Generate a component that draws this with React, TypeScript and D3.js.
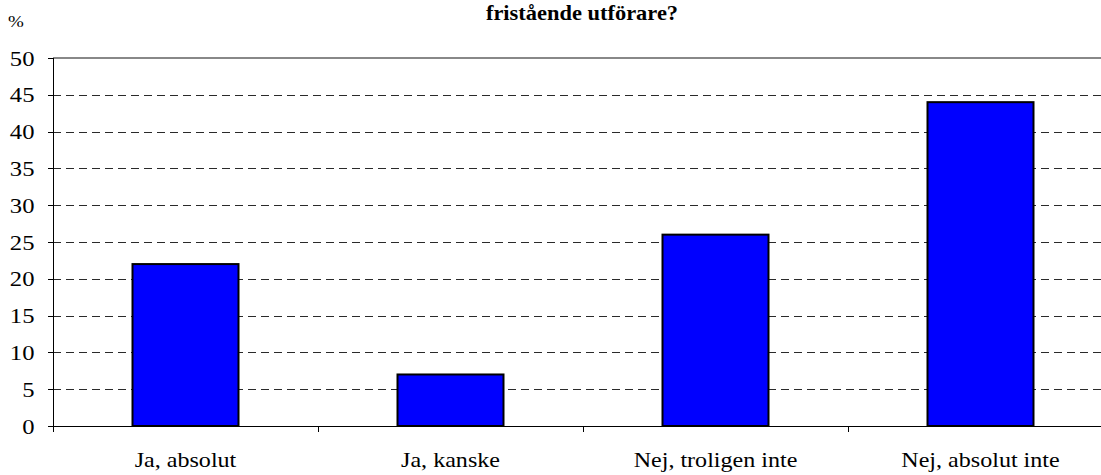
import React from "react";
import * as d3 from "d3";

const categories = ["Ja, absolut", "Ja, kanske", "Nej, troligen inte", "Nej, absolut inte"];
const values = [22, 7, 26, 44];
const yTicks = [0, 5, 10, 15, 20, 25, 30, 35, 40, 45, 50];
const titleLine = "fristående utförare?";
const unitLabel = "%";

const W = 1101;
const H = 475;
const left = 53;
const right = 1113;
const top = 58;
const bottom = 426;
const FONT = "Liberation Serif, DejaVu Serif, serif";

export default function App() {
  const x = d3.scaleBand<string>().domain(categories).range([left, right]).paddingInner(0.6).paddingOuter(0.3);
  const y = d3.scaleLinear().domain([0, 50]).range([bottom, top]);
  const step = x.step();
  const boundaries = d3.range(categories.length + 1).map((i) => left + i * step);
  const sx = 1.12;
  return (
    <svg width={W} height={H} style={{ position: "absolute", left: 0, top: 0, background: "#fff" }}>
      <text fontFamily={FONT} transform={`translate(${(left + right) / 2 - 1},20) scale(1.02,1)`} textAnchor="middle" fontSize={22} fontWeight="bold">{titleLine}</text>
      <text fontFamily={FONT} transform={`translate(8,27) scale(${sx},1)`} fontSize={17}>{unitLabel}</text>
      {yTicks.filter((t) => t > 0 && t < 50).map((t) => (
        <line key={"g" + t} x1={left} x2={right} y1={Math.round(y(t)) + 0.5} y2={Math.round(y(t)) + 0.5} stroke="#2a2a2a" strokeDasharray="8,5" />
      ))}
      <line x1={left} x2={right} y1={top} y2={top} stroke="#888" strokeWidth={2} />
      {values.map((v, i) => (
        <rect key={i} x={x(categories[i])!} y={y(v)} width={x.bandwidth()} height={y(0) - y(v)} fill="#0000FF" stroke="#000" strokeWidth={2} />
      ))}
      <line x1={left + 0.5} x2={left + 0.5} y1={top} y2={bottom} stroke="#000" />
      <line x1={left} x2={right} y1={bottom + 0.5} y2={bottom + 0.5} stroke="#000" />
      {yTicks.map((t) => (
        <g key={"t" + t}>
          <line x1={left - 5} x2={left} y1={Math.round(y(t)) + 0.5} y2={Math.round(y(t)) + 0.5} stroke="#000" />
          <text fontFamily={FONT} transform={`translate(34.5,${y(t) + 7.5}) scale(1.12,1)`} textAnchor="end" fontSize={22}>{t}</text>
        </g>
      ))}
      {boundaries.map((b, i) => (
        <line key={"b" + i} x1={Math.round(b) + 0.5} x2={Math.round(b) + 0.5} y1={bottom} y2={bottom + 6} stroke="#000" />
      ))}
      {categories.map((c) => (
        <text key={c} fontFamily={FONT} transform={`translate(${x(c)! + x.bandwidth() / 2},467) scale(${sx},1)`} textAnchor="middle" fontSize={21.5}>{c}</text>
      ))}
    </svg>
  );
}
